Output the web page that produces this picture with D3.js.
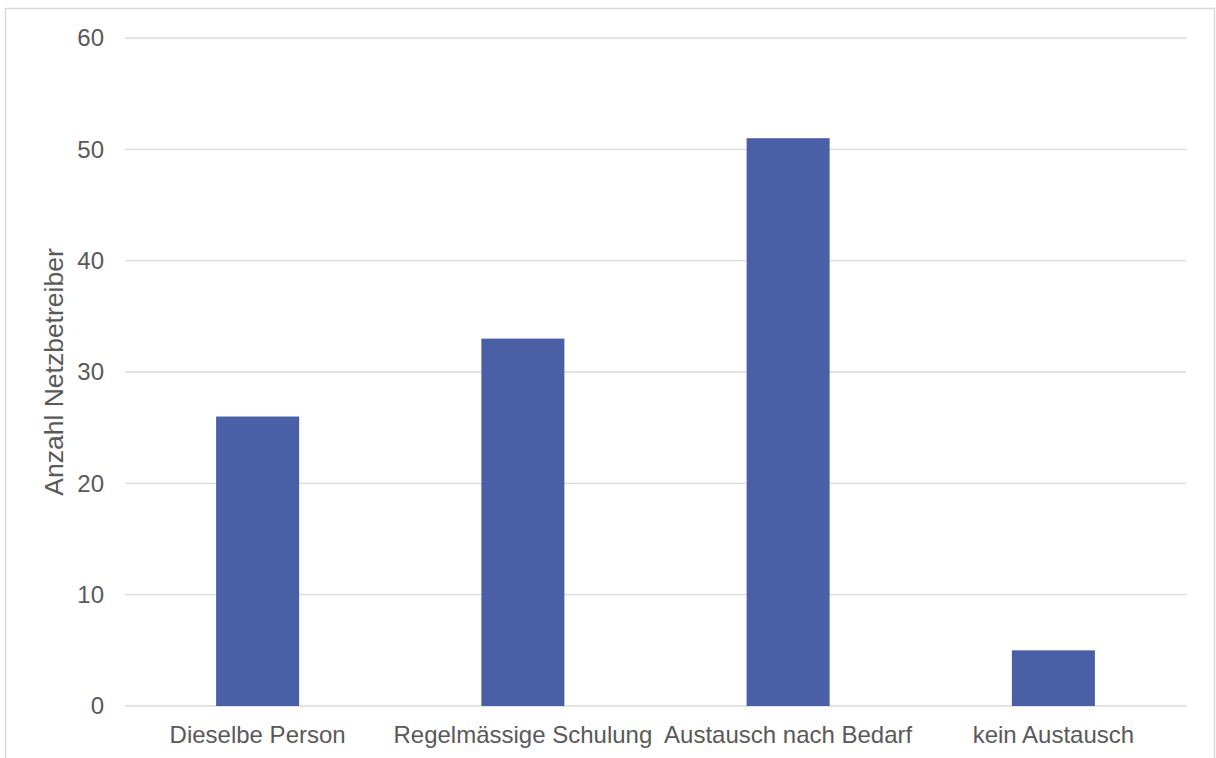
<!DOCTYPE html>
<html>
<head>
<meta charset="utf-8">
<script src="https://cdn.jsdelivr.net/npm/d3@7"></script>
<style>
  html, body { margin: 0; padding: 0; background: #fff; }
  svg { display: block; }
</style>
</head>
<body>
<svg id="chart" width="1216" height="758"></svg>
<script>
const categories = ["Dieselbe Person", "Regelmässige Schulung", "Austausch nach Bedarf", "kein Austausch"];
const values = [26, 33, 51, 5];
const yTicks = [0, 10, 20, 30, 40, 50, 60];
const yTitle = "Anzahl Netzbetreiber";

const svg = d3.select("#chart");
const font = "'Liberation Sans', Arial, sans-serif";
const textColor = "#595959";

const plot = { left: 125, right: 1186, top: 38, bottom: 706 };

// outer chart border
svg.append("rect")
  .attr("x", 5.5).attr("y", 8.5)
  .attr("width", 1209).attr("height", 800)
  .attr("fill", "none")
  .attr("stroke", "#d9d9d9")
  .attr("stroke-width", 1.5);

const x = d3.scaleBand()
  .domain(categories)
  .range([plot.left, plot.right])
  .paddingInner(0.687)
  .paddingOuter(0.3435);

const y = d3.scaleLinear()
  .domain([0, 60])
  .range([plot.bottom, plot.top]);

// gridlines
svg.append("g")
  .selectAll("line")
  .data(yTicks)
  .join("line")
  .attr("x1", plot.left).attr("x2", plot.right)
  .attr("y1", d => y(d)).attr("y2", d => y(d))
  .attr("stroke", "#d9d9d9")
  .attr("stroke-width", 1.3);

// y tick labels
svg.append("g")
  .selectAll("text")
  .data(yTicks)
  .join("text")
  .attr("x", 104)
  .attr("y", d => y(d))
  .attr("dy", "0.35em")
  .attr("text-anchor", "end")
  .attr("font-family", font)
  .attr("font-size", 24)
  .attr("fill", textColor)
  .text(d => d);

// bars
svg.append("g")
  .selectAll("rect")
  .data(values)
  .join("rect")
  .attr("x", (d, i) => x(categories[i]))
  .attr("width", x.bandwidth())
  .attr("y", d => y(d))
  .attr("height", d => y(0) - y(d))
  .attr("fill", "#4a5fa5");

// category labels
svg.append("g")
  .selectAll("text")
  .data(categories)
  .join("text")
  .attr("x", d => x(d) + x.bandwidth() / 2)
  .attr("y", 743)
  .attr("text-anchor", "middle")
  .attr("font-family", font)
  .attr("font-size", 24)
  .attr("fill", textColor)
  .text(d => d);

// y axis title
svg.append("text")
  .attr("transform", `translate(63, ${(plot.top + plot.bottom) / 2}) rotate(-90)`)
  .attr("text-anchor", "middle")
  .attr("font-family", font)
  .attr("font-size", 26.5)
  .attr("fill", textColor)
  .text(yTitle);
</script>
</body>
</html>
